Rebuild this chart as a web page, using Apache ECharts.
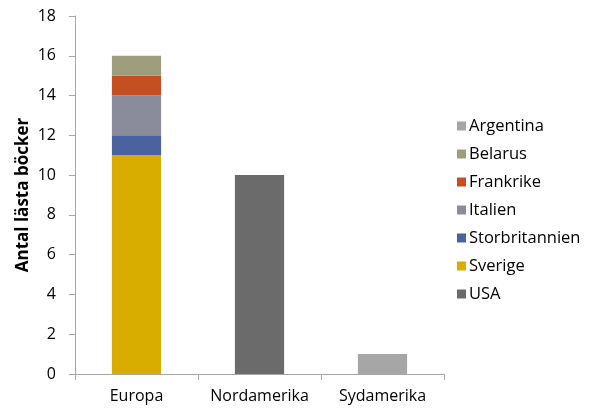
<!DOCTYPE html>
<html>
<head>
<meta charset="utf-8">
<script src="https://cdn.jsdelivr.net/npm/echarts@6/dist/echarts.min.js"></script>
<style>
html,body{margin:0;padding:0;background:#fff;}
#main{width:600px;height:415px;}
</style>
</head>
<body>
<div id="main"></div>
<script>
var categories=['Europa','Nordamerika','Sydamerika'];
var legendOrder=['Argentina','Belarus','Frankrike','Italien','Storbritannien','Sverige','USA'];
// stacking order, bottom to top
var sverige=[11,'-','-'];
var storbritannien=[1,'-','-'];
var italien=[2,'-','-'];
var frankrike=[1,'-','-'];
var belarus=[1,'-','-'];
var usa=['-',10,'-'];
var argentina=['-','-',1];
var yTicks={min:0,max:18,interval:2};

var font='"Open Sans", "Noto Sans", sans-serif';
var colors={
    Sverige:'#D9AD00', Storbritannien:'#4A62A0', Italien:'#8A8C9C',
    Frankrike:'#C44F22', Belarus:'#9E9D7E', USA:'#6B6B6B', Argentina:'#A6A6A6'
};
function bar(name,data){
    return {name:name,type:'bar',stack:'total',data:data,barWidth:'40%',
        itemStyle:{color:colors[name]}};
}
var chart=echarts.init(document.getElementById('main'));
chart.setOption({
    animation:false,
    textStyle:{fontFamily:font},
    grid:{left:75,right:156,top:16,bottom:41},
    legend:{
        orient:'vertical',left:452,top:112,itemGap:10,
        itemWidth:9,itemHeight:9,icon:'rect',
        data:legendOrder,
        textStyle:{fontSize:16.5,color:'#000',fontFamily:font,padding:[0,0,0,-2],
            lineHeight:18}
    },
    xAxis:{
        type:'category',data:categories,
        axisLine:{lineStyle:{color:'#A6A6A6'}},
        axisTick:{show:true,length:6,lineStyle:{color:'#A6A6A6'}},
        axisLabel:{fontSize:16,color:'#000',margin:14,fontFamily:font,
            interval:0,hideOverlap:false}
    },
    yAxis:{
        type:'value',min:yTicks.min,max:yTicks.max,interval:yTicks.interval,
        name:'Antal lästa böcker',nameLocation:'middle',nameGap:43,
        nameMoveOverlap:false,
        nameTextStyle:{fontSize:17,fontWeight:'bold',color:'#000',fontFamily:font},
        axisLine:{show:true,lineStyle:{color:'#A6A6A6'}},
        axisTick:{show:true,length:6,lineStyle:{color:'#A6A6A6'}},
        splitLine:{show:false},
        axisLabel:{fontSize:16,color:'#000',margin:19,fontFamily:font}
    },
    series:[
        bar('Sverige',sverige),
        bar('Storbritannien',storbritannien),
        bar('Italien',italien),
        bar('Frankrike',frankrike),
        bar('Belarus',belarus),
        bar('USA',usa),
        bar('Argentina',argentina)
    ]
});
</script>
</body>
</html>
